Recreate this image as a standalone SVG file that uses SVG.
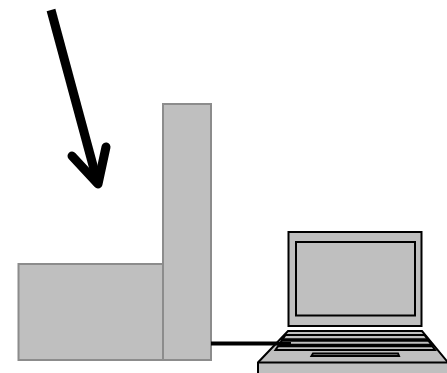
<svg xmlns="http://www.w3.org/2000/svg" width="447" height="373" viewBox="0 0 447 373">
<style>
.box{fill:#bfbfbf;stroke:#8c8c8c;stroke-width:2}
.lap{fill:#bfbfbf;stroke:#000;stroke-width:2}
.ink{fill:none;stroke:#000;stroke-linecap:round;stroke-linejoin:round}
</style>
<rect width="447" height="373" fill="#fff"/>
<g id="base-box"><rect class="box" x="18.500" y="264" width="144.500" height="96"/></g>
<g id="tower-box"><rect class="box" x="163" y="104" width="48" height="256"/></g>
<g id="laptop">
<rect class="lap" x="288.500" y="232" width="133" height="94"/>
<rect class="lap" x="296" y="242" width="119" height="73.500"/>
<path class="lap" d="M288 331H422L448 362.500V374H258V362.500Z"/>
<path d="M258 362.500H448" fill="none" stroke="#000" stroke-width="2"/>
<path class="lap" d="M285.500 335H424.500L435 350H275.500Z"/>
<path d="M281 340H428M278 345.500H432" stroke="#000" stroke-width="3.500" fill="none"/>
<path class="lap" d="M313 353.500H398L399 356H311.500Z"/>
</g>
<g id="connectors">
<path d="M211 343.500H278" fill="none" stroke="#000" stroke-width="4"/>
<path d="M278 343H291" fill="none" stroke="#000" stroke-width="2"/>
<path class="ink" d="M51 10L98 184" stroke-width="9" style="stroke-linecap:butt"/>
<path class="ink" d="M72 156L98 184L106 147" stroke-width="9"/>
</g>
</svg>
